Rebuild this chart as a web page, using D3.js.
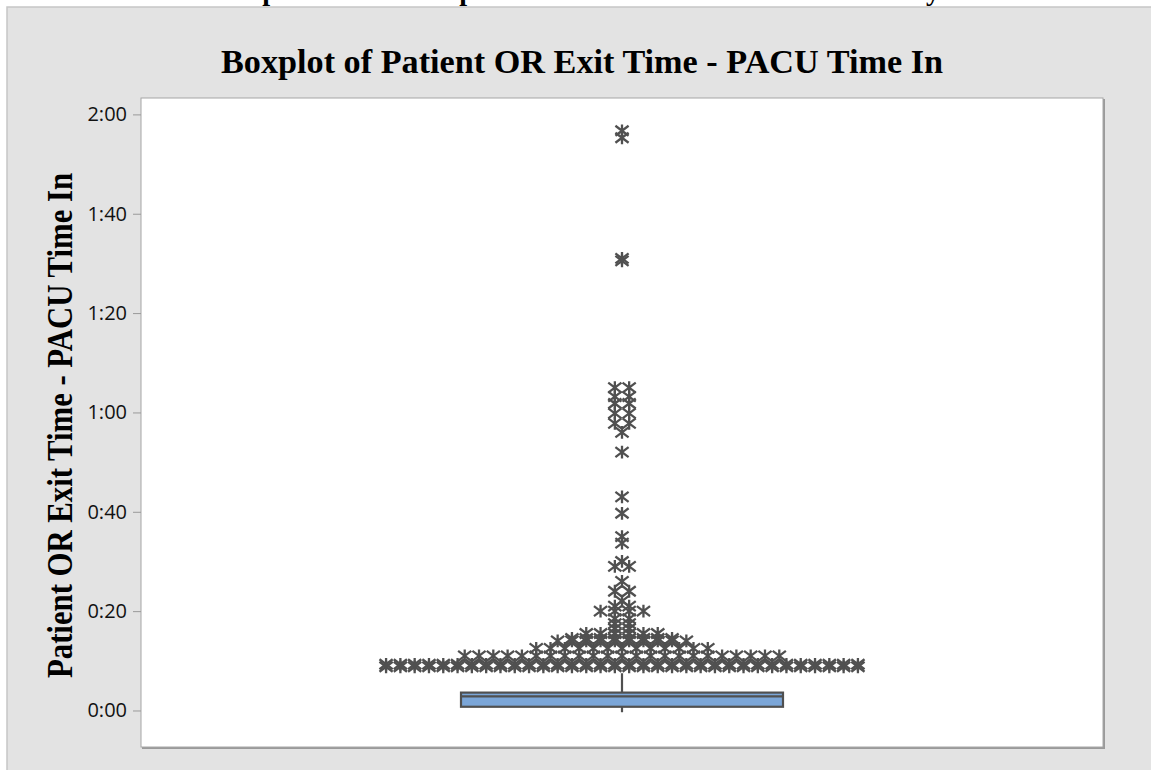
<!DOCTYPE html>
<html>
<head>
<meta charset="utf-8">
<script src="https://cdn.jsdelivr.net/npm/d3@7"></script>
<style>
	body { margin: 0; background: #fff; }
	svg { display: block; }
</style>
</head>
<body>
<svg id="svg" width="1151" height="770"></svg>
<script>
// values are minutes
var tickMinutes = [0, 20, 40, 60, 80, 100, 120]
var q1 = 0.75, median = 2.85, q3 = 3.6
var whiskerLow = -0.35, whiskerHigh = 7.5

// outliers: value (min) and how many share that value
var outlierValues = [8.8, 9.3, 11, 12.5, 14, 14.5, 15.5, 16.5, 17.5, 18.5, 20, 21, 22, 24, 26, 29, 30,
	33.7, 35, 39.7, 43, 52, 56, 57.8, 59.8, 61.8, 63.2, 65, 90.5, 91, 115.3, 116.7]
var outlierCounts = [34, 34, 23, 13, 10, 8, 6, 2, 2, 2, 4, 2, 1, 2, 1, 2, 1,
	1, 1, 1, 1, 1, 1, 2, 2, 2, 2, 2, 1, 1, 1, 1]

var title = "Boxplot of Patient OR Exit Time - PACU Time In"
var yTitle = "Patient OR Exit Time - PACU Time In"

var chart = function() {
var svg = d3.select("#svg")
var pL = 141, pR = 1103, pT = 98, pB = 747
var ink = "#505050"

// cut-off heading above the panel, only descenders show
svg.selectAll(".cut").data([[270, "p"], [467, "p"], [933, "y"]]).enter()
	.append("text")
	.attr("x", function (d) { return d[0] })
	.attr("y", 0)
	.attr("text-anchor", "middle")
	.style("font", "bold 28px 'Liberation Serif'")
	.text(function (d) { return d[1] })

svg.append("rect")
	.attr("x", 7).attr("y", 7)
	.attr("width", 1160).attr("height", 780)
	.style("fill", "#e3e3e3")
	.style("stroke", "#c6c6c6")
	.style("stroke-width", 1.5)

svg.append("text")
	.attr("x", 582).attr("y", 73)
	.attr("text-anchor", "middle")
	.attr("textLength", 722)
	.attr("lengthAdjust", "spacingAndGlyphs")
	.style("font", "bold 34px 'Liberation Serif'")
	.style("fill", "#000")
	.text(title)

// plot area + shadow edge
svg.append("path")
	.attr("d", "M" + (pR + 1) + "," + (pT + 1) + "V" + (pB + 1) + "H" + (pL + 1))
	.style("fill", "none").style("stroke", "#9a9a9a").style("stroke-width", 2)
svg.append("rect")
	.attr("x", pL).attr("y", pT)
	.attr("width", pR - pL).attr("height", pB - pT)
	.style("fill", "#fff").style("stroke", "#a6a6a6").style("stroke-width", 1)

var y = d3.scaleLinear().domain([-7.35, 123.3]).range([pB, pT])
// x in "slots": one slot = spacing of side-by-side outliers
var x = d3.scaleLinear().domain([-33.64, 33.64]).range([pL, pR])

function fmt(m) {
	var h = Math.floor(m / 60), mm = m % 60
	return h + ":" + (mm < 10 ? "0" : "") + mm
}

var axis = d3.axisLeft(y).tickValues(tickMinutes).tickFormat(fmt).tickSize(8).tickPadding(6)
var gy = svg.append("g").attr("transform", "translate(" + pL + ",0)").call(axis)
gy.select(".domain").remove()
gy.selectAll(".tick line").style("stroke", "#9a9a9a")
gy.selectAll(".tick text")
	.style("font-family", "'Open Sans'")
	.style("font-size", "20px")
	.style("font-weight", 500)
	.style("fill", "#111")

svg.append("text")
	.attr("transform", "translate(72," + ((pT + pB) / 2 + 3) + ") rotate(-90)")
	.attr("text-anchor", "middle")
	.attr("textLength", 505)
	.attr("lengthAdjust", "spacingAndGlyphs")
	.style("font", "bold 35px 'Liberation Serif'")
	.style("fill", "#000")
	.text(yTitle)

// box and whiskers
var halfBox = 11.26
var g = svg.append("g")
g.append("line")
	.attr("x1", x(0)).attr("x2", x(0))
	.attr("y1", y(q3)).attr("y2", y(whiskerHigh))
	.style("stroke", ink).style("stroke-width", 2.2)
g.append("line")
	.attr("x1", x(0)).attr("x2", x(0))
	.attr("y1", y(q1)).attr("y2", y(whiskerLow))
	.style("stroke", ink).style("stroke-width", 2.2)
g.append("rect")
	.attr("x", x(-halfBox)).attr("y", y(q3))
	.attr("width", x(halfBox) - x(-halfBox)).attr("height", y(q1) - y(q3))
	.style("fill", "#7ba6d8").style("stroke", ink).style("stroke-width", 2.2)
g.append("line")
	.attr("x1", x(-halfBox)).attr("x2", x(halfBox))
	.attr("y1", y(median)).attr("y2", y(median))
	.style("stroke", ink).style("stroke-width", 2.2)

// outliers, equal values spread side by side
var pts = []
outlierValues.forEach(function (v, i) {
	var n = outlierCounts[i]
	for (var k = 0; k < n; k++) pts.push({ v: v, slot: k - (n - 1) / 2 })
})

var star = "M0,-6.4V6.4M-6.6,-5L6.6,5M-6.6,5L6.6,-5"
svg.append("g").selectAll("path").data(pts).enter()
	.append("path")
	.attr("d", star)
	.attr("transform", function (d) { return "translate(" + x(d.slot) + "," + y(d.v) + ")" })
	.style("fill", "none")
	.style("stroke", ink)
	.style("stroke-width", 2.3)
}()
</script>
</body>
</html>
